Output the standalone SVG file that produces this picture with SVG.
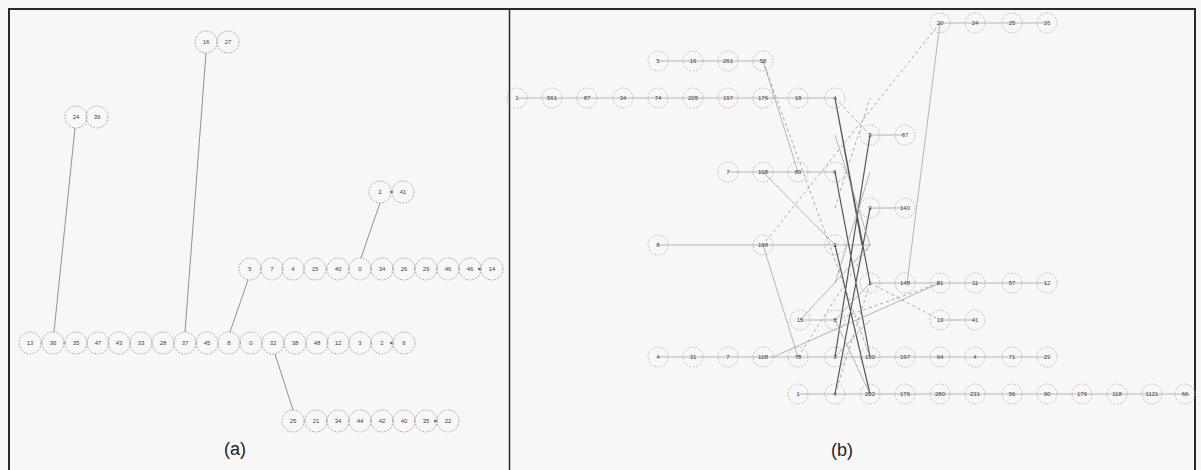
<svg xmlns="http://www.w3.org/2000/svg" width="1201" height="470" viewBox="0 0 1201 470">
<style>
.n{fill:none;stroke:#9c9c9c;stroke-width:0.8;stroke-dasharray:2 1.2}
.m{fill:none;stroke:#a8a8a8;stroke-width:0.7;stroke-dasharray:2 1.5}
.t{font-family:"Liberation Sans",Arial,sans-serif;font-size:6px;fill:#444;text-anchor:middle;dominant-baseline:central}
.e{fill:none;stroke:#777;stroke-width:0.8}
.eb{fill:none;stroke:#999;stroke-width:0.7}
.ed{fill:none;stroke:#888;stroke-width:0.7;stroke-dasharray:3 3}
.ek{fill:none;stroke:#555;stroke-width:1.2}
.cap{font-family:"Liberation Sans",Arial,sans-serif;font-size:18px;fill:#222;text-anchor:middle}
</style>
<defs>
<marker id="ar" viewBox="0 0 6 6" refX="5" refY="3" markerWidth="4" markerHeight="4" orient="auto"><path d="M0,0L6,3L0,6z" fill="#555"/></marker>
</defs>
<rect x="0" y="0" width="1201" height="470" fill="#f6f6f6"/>
<rect x="9" y="9" width="1186" height="462" fill="#f7f7f7" stroke="#2a2a2a" stroke-width="2"/>
<line x1="509.5" y1="9" x2="509.5" y2="470" stroke="#2a2a2a" stroke-width="1.5"/>
<g id="connectors">
<!-- panel a rows -->
<path class="e" marker-end="url(#ar)" d="M41,343H42M63,343H66M87,343H87M108,343H108M130,343H131M152,343H152M174,343H174M196,343H197M218,343H218M240,343H241M262,343H262M284,343H284M306,343H306M328,343H327M349,343H349M371,343H372M393,343H393"/>
<path class="e" marker-end="url(#ar)" d="M260,269H261M282,269H282M304,269H304M326,269H327M348,269H349M370,269H371M392,269H393M414,269H415M436,269H437M458,269H459M480,269H481"/>
<path class="e" marker-end="url(#ar)" d="M304,421H305M326,421H327M348,421H349M370,421H371M392,421H393M414,421H415M436,421H437"/>
<path class="e" marker-end="url(#ar)" d="M86,117H86M217,42H217M391,192H393"/>
<path class="e" d="M75,128L54,332M206,53L185,332M380,203L361,258M248,280L230,332M275,354L293,410"/>
<!-- panel b rows -->
<path class="eb" d="M940,23H1047M658,61H763M517,98H835M728,172H835M870,135H905M870,208H905M658,245H870M870,283H1047M940,320H975M800,320H835M658,357H1047M798,394H1190"/>
<!-- panel b cross links -->
<path class="ek" d="M835,98L870,283M870,135L835,357M835,172L870,357M870,208L835,394M835,245L870,394M835,98L862,245"/>
<path class="eb" d="M763,61L798,172M763,172L835,245M763,245L798,357M773,357L940,283M940,23L907,283M870,283L835,320M835,320L870,394M870,172L835,283M835,135L870,245M800,320L870,245M835,357L870,320"/>
<path class="ed" d="M940,23L763,245M763,61L870,357M870,283L940,320M835,320L940,283M870,135L835,98M835,208L870,98M798,357L870,245M870,283L835,394"/>
</g>
<!-- panel (a) nodes -->
<g id="a_r1_1" transform="translate(30,343)"><circle class="n" r="11"/><text class="t">13</text></g>
<g id="a_r1_2" transform="translate(53,343)"><circle class="n" r="11"/><text class="t">36</text></g>
<g id="a_r1_3" transform="translate(76,343)"><circle class="n" r="11"/><text class="t">35</text></g>
<g id="a_r1_4" transform="translate(98,343)"><circle class="n" r="11"/><text class="t">47</text></g>
<g id="a_r1_5" transform="translate(119,343)"><circle class="n" r="11"/><text class="t">43</text></g>
<g id="a_r1_6" transform="translate(141,343)"><circle class="n" r="11"/><text class="t">33</text></g>
<g id="a_r1_7" transform="translate(163,343)"><circle class="n" r="11"/><text class="t">28</text></g>
<g id="a_r1_8" transform="translate(185,343)"><circle class="n" r="11"/><text class="t">37</text></g>
<g id="a_r1_9" transform="translate(207,343)"><circle class="n" r="11"/><text class="t">45</text></g>
<g id="a_r1_10" transform="translate(229,343)"><circle class="n" r="11"/><text class="t">8</text></g>
<g id="a_r1_11" transform="translate(251,343)"><circle class="n" r="11"/><text class="t">0</text></g>
<g id="a_r1_12" transform="translate(273,343)"><circle class="n" r="11"/><text class="t">32</text></g>
<g id="a_r1_13" transform="translate(295,343)"><circle class="n" r="11"/><text class="t">38</text></g>
<g id="a_r1_14" transform="translate(317,343)"><circle class="n" r="11"/><text class="t">48</text></g>
<g id="a_r1_15" transform="translate(338,343)"><circle class="n" r="11"/><text class="t">12</text></g>
<g id="a_r1_16" transform="translate(360,343)"><circle class="n" r="11"/><text class="t">3</text></g>
<g id="a_r1_17" transform="translate(382,343)"><circle class="n" r="11"/><text class="t">2</text></g>
<g id="a_r1_18" transform="translate(404,343)"><circle class="n" r="11"/><text class="t">6</text></g>
<g id="a_r2_1" transform="translate(250,269)"><circle class="n" r="11"/><text class="t">5</text></g>
<g id="a_r2_2" transform="translate(272,269)"><circle class="n" r="11"/><text class="t">7</text></g>
<g id="a_r2_3" transform="translate(293,269)"><circle class="n" r="11"/><text class="t">4</text></g>
<g id="a_r2_4" transform="translate(315,269)"><circle class="n" r="11"/><text class="t">15</text></g>
<g id="a_r2_5" transform="translate(338,269)"><circle class="n" r="11"/><text class="t">40</text></g>
<g id="a_r2_6" transform="translate(360,269)"><circle class="n" r="11"/><text class="t">0</text></g>
<g id="a_r2_7" transform="translate(382,269)"><circle class="n" r="11"/><text class="t">34</text></g>
<g id="a_r2_8" transform="translate(404,269)"><circle class="n" r="11"/><text class="t">26</text></g>
<g id="a_r2_9" transform="translate(426,269)"><circle class="n" r="11"/><text class="t">29</text></g>
<g id="a_r2_10" transform="translate(448,269)"><circle class="n" r="11"/><text class="t">46</text></g>
<g id="a_r2_11" transform="translate(470,269)"><circle class="n" r="11"/><text class="t">46</text></g>
<g id="a_r2_12" transform="translate(492,269)"><circle class="n" r="11"/><text class="t">14</text></g>
<g id="a_r3_1" transform="translate(293,421)"><circle class="n" r="11"/><text class="t">25</text></g>
<g id="a_r3_2" transform="translate(316,421)"><circle class="n" r="11"/><text class="t">21</text></g>
<g id="a_r3_3" transform="translate(338,421)"><circle class="n" r="11"/><text class="t">34</text></g>
<g id="a_r3_4" transform="translate(360,421)"><circle class="n" r="11"/><text class="t">44</text></g>
<g id="a_r3_5" transform="translate(382,421)"><circle class="n" r="11"/><text class="t">42</text></g>
<g id="a_r3_6" transform="translate(404,421)"><circle class="n" r="11"/><text class="t">40</text></g>
<g id="a_r3_7" transform="translate(426,421)"><circle class="n" r="11"/><text class="t">35</text></g>
<g id="a_r3_8" transform="translate(448,421)"><circle class="n" r="11"/><text class="t">22</text></g>
<g id="a_p1_1" transform="translate(76,117)"><circle class="n" r="11"/><text class="t">24</text></g>
<g id="a_p1_2" transform="translate(97,117)"><circle class="n" r="11"/><text class="t">39</text></g>
<g id="a_p2_1" transform="translate(206,42)"><circle class="n" r="11"/><text class="t">16</text></g>
<g id="a_p2_2" transform="translate(228,42)"><circle class="n" r="11"/><text class="t">27</text></g>
<g id="a_p3_1" transform="translate(380,192)"><circle class="n" r="11"/><text class="t">2</text></g>
<g id="a_p3_2" transform="translate(403,192)"><circle class="n" r="11"/><text class="t">41</text></g>
<!-- panel (b) nodes -->
<g id="b_A1" transform="translate(940,23)"><circle class="m" r="10"/><text class="t">20</text></g>
<g id="b_A2" transform="translate(975,23)"><circle class="m" r="10"/><text class="t">24</text></g>
<g id="b_A3" transform="translate(1012,23)"><circle class="m" r="10"/><text class="t">25</text></g>
<g id="b_A4" transform="translate(1047,23)"><circle class="m" r="10"/><text class="t">26</text></g>
<g id="b_B1" transform="translate(658,61)"><circle class="m" r="10"/><text class="t">5</text></g>
<g id="b_B2" transform="translate(693,61)"><circle class="m" r="10"/><text class="t">16</text></g>
<g id="b_B3" transform="translate(728,61)"><circle class="m" r="10"/><text class="t">261</text></g>
<g id="b_B4" transform="translate(763,61)"><circle class="m" r="10"/><text class="t">58</text></g>
<g id="b_C1" transform="translate(517,98)"><circle class="m" r="10"/><text class="t">1</text></g>
<g id="b_C2" transform="translate(552,98)"><circle class="m" r="10"/><text class="t">561</text></g>
<g id="b_C3" transform="translate(587,98)"><circle class="m" r="10"/><text class="t">87</text></g>
<g id="b_C4" transform="translate(623,98)"><circle class="m" r="10"/><text class="t">34</text></g>
<g id="b_C5" transform="translate(658,98)"><circle class="m" r="10"/><text class="t">74</text></g>
<g id="b_C6" transform="translate(693,98)"><circle class="m" r="10"/><text class="t">205</text></g>
<g id="b_C7" transform="translate(728,98)"><circle class="m" r="10"/><text class="t">197</text></g>
<g id="b_C8" transform="translate(763,98)"><circle class="m" r="10"/><text class="t">176</text></g>
<g id="b_C9" transform="translate(798,98)"><circle class="m" r="10"/><text class="t">18</text></g>
<g id="b_C10" transform="translate(835,98)"><circle class="m" r="10"/><text class="t">4</text></g>
<g id="b_D1" transform="translate(728,172)"><circle class="m" r="10"/><text class="t">7</text></g>
<g id="b_D2" transform="translate(763,172)"><circle class="m" r="10"/><text class="t">108</text></g>
<g id="b_D3" transform="translate(798,172)"><circle class="m" r="10"/><text class="t">89</text></g>
<g id="b_D4" transform="translate(835,172)"><circle class="m" r="10"/><text class="t">6</text></g>
<g id="b_E1" transform="translate(870,135)"><circle class="m" r="10"/><text class="t">3</text></g>
<g id="b_E2" transform="translate(905,135)"><circle class="m" r="10"/><text class="t">67</text></g>
<g id="b_F1" transform="translate(870,208)"><circle class="m" r="10"/><text class="t">9</text></g>
<g id="b_F2" transform="translate(905,208)"><circle class="m" r="10"/><text class="t">140</text></g>
<g id="b_G1" transform="translate(658,245)"><circle class="m" r="10"/><text class="t">8</text></g>
<g id="b_G2" transform="translate(763,245)"><circle class="m" r="10"/><text class="t">168</text></g>
<g id="b_G3" transform="translate(835,245)"><circle class="m" r="10"/><text class="t">2</text></g>
<g id="b_H1" transform="translate(870,283)"><circle class="m" r="10"/><text class="t">1</text></g>
<g id="b_H2" transform="translate(905,283)"><circle class="m" r="10"/><text class="t">148</text></g>
<g id="b_H3" transform="translate(940,283)"><circle class="m" r="10"/><text class="t">81</text></g>
<g id="b_H4" transform="translate(975,283)"><circle class="m" r="10"/><text class="t">11</text></g>
<g id="b_H5" transform="translate(1012,283)"><circle class="m" r="10"/><text class="t">57</text></g>
<g id="b_H6" transform="translate(1047,283)"><circle class="m" r="10"/><text class="t">12</text></g>
<g id="b_I1" transform="translate(940,320)"><circle class="m" r="10"/><text class="t">13</text></g>
<g id="b_I2" transform="translate(975,320)"><circle class="m" r="10"/><text class="t">41</text></g>
<g id="b_J1" transform="translate(800,320)"><circle class="m" r="10"/><text class="t">15</text></g>
<g id="b_J2" transform="translate(835,320)"><circle class="m" r="10"/><text class="t">5</text></g>
<g id="b_K1" transform="translate(658,357)"><circle class="m" r="10"/><text class="t">4</text></g>
<g id="b_K2" transform="translate(693,357)"><circle class="m" r="10"/><text class="t">31</text></g>
<g id="b_K3" transform="translate(728,357)"><circle class="m" r="10"/><text class="t">7</text></g>
<g id="b_K4" transform="translate(763,357)"><circle class="m" r="10"/><text class="t">108</text></g>
<g id="b_K5" transform="translate(798,357)"><circle class="m" r="10"/><text class="t">78</text></g>
<g id="b_K6" transform="translate(835,357)"><circle class="m" r="10"/><text class="t">3</text></g>
<g id="b_K7" transform="translate(870,357)"><circle class="m" r="10"/><text class="t">100</text></g>
<g id="b_K8" transform="translate(905,357)"><circle class="m" r="10"/><text class="t">197</text></g>
<g id="b_K9" transform="translate(940,357)"><circle class="m" r="10"/><text class="t">64</text></g>
<g id="b_K10" transform="translate(975,357)"><circle class="m" r="10"/><text class="t">4</text></g>
<g id="b_K11" transform="translate(1012,357)"><circle class="m" r="10"/><text class="t">71</text></g>
<g id="b_K12" transform="translate(1047,357)"><circle class="m" r="10"/><text class="t">29</text></g>
<g id="b_L1" transform="translate(798,394)"><circle class="m" r="10"/><text class="t">1</text></g>
<g id="b_L2" transform="translate(835,394)"><circle class="m" r="10"/><text class="t">4</text></g>
<g id="b_L3" transform="translate(870,394)"><circle class="m" r="10"/><text class="t">202</text></g>
<g id="b_L4" transform="translate(905,394)"><circle class="m" r="10"/><text class="t">176</text></g>
<g id="b_L5" transform="translate(940,394)"><circle class="m" r="10"/><text class="t">280</text></g>
<g id="b_L6" transform="translate(975,394)"><circle class="m" r="10"/><text class="t">231</text></g>
<g id="b_L7" transform="translate(1012,394)"><circle class="m" r="10"/><text class="t">56</text></g>
<g id="b_L8" transform="translate(1047,394)"><circle class="m" r="10"/><text class="t">90</text></g>
<g id="b_L9" transform="translate(1082,394)"><circle class="m" r="10"/><text class="t">176</text></g>
<g id="b_L10" transform="translate(1117,394)"><circle class="m" r="10"/><text class="t">118</text></g>
<g id="b_L11" transform="translate(1152,394)"><circle class="m" r="10"/><text class="t">1121</text></g>
<g id="b_L12" transform="translate(1185,394)"><circle class="m" r="10"/><text class="t">66</text></g>
<text class="cap" x="235" y="455">(a)</text>
<text class="cap" x="842" y="456">(b)</text>
</svg>
